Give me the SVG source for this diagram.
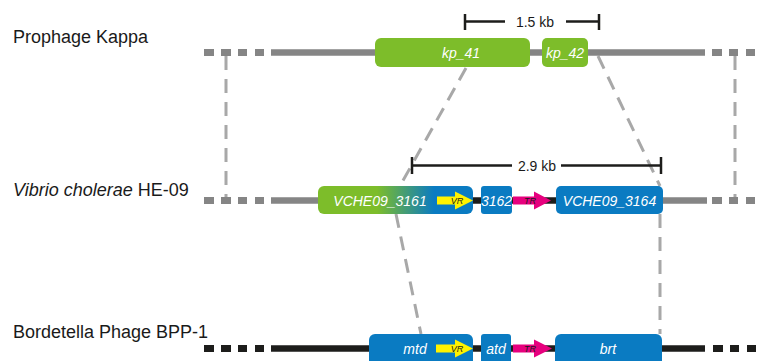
<svg xmlns="http://www.w3.org/2000/svg" width="761" height="361" viewBox="0 0 761 361">
<defs>
<style>
.lbl{font-family:"Liberation Sans",Arial,sans-serif;font-size:18px;fill:#1a1a1a}
.gene{font-family:"Liberation Sans",Arial,sans-serif;font-size:14px;font-style:italic;fill:#ffffff;text-anchor:middle}
.small{font-family:"Liberation Sans",Arial,sans-serif;font-size:9px;font-style:italic;fill:#1a1a1a;text-anchor:middle}
.scale{font-family:"Liberation Sans",Arial,sans-serif;font-size:14px;fill:#1a1a1a;text-anchor:middle}
.bar{stroke:#1d1d1b;stroke-width:2.5;fill:none}
.conn{stroke:#a8a8a8;stroke-width:3;stroke-dasharray:14 9;fill:none}
.gline{stroke:#858585;stroke-width:6.5}
.bline{stroke:#1d1d1b;stroke-width:6.5}
.green{fill:#7dbd2a}
.blue{fill:#0a7bc2}
.vr{fill:#fff200}
.tr{fill:#e6007e}
</style>
<linearGradient id="gb" x1="318" y1="0" x2="473" y2="0" gradientUnits="userSpaceOnUse">
<stop offset="0" stop-color="#7dbd2a"/>
<stop offset="0.38" stop-color="#7dbd2a"/>
<stop offset="0.75" stop-color="#0a7bc2"/>
<stop offset="1" stop-color="#0a7bc2"/>
</linearGradient>
</defs>
<rect width="761" height="361" fill="#ffffff"/>

<g id="connectors">
<line class="conn" x1="226" y1="56" x2="226" y2="197"/>
<line class="conn" x1="735" y1="56" x2="735" y2="197"/>
<line class="conn" x1="466" y1="68" x2="400" y2="186"/>
<line class="conn" x1="598" y1="56" x2="660" y2="186"/>
<line class="conn" x1="396" y1="214" x2="421" y2="334"/>
<line class="conn" x1="660" y1="214" x2="660" y2="334"/>
</g>

<g id="labels">
<text class="lbl" x="13" y="43">Prophage Kappa</text>
<text class="lbl" x="13" y="196"><tspan font-style="italic">Vibrio cholerae</tspan> HE-09</text>
<text class="lbl" x="13" y="338">Bordetella Phage BPP-1</text>
</g>

<g id="track-kappa">
<g fill="#858585">
<rect x="204" y="49" width="10" height="7"/>
<rect x="221" y="49" width="10" height="7"/>
<rect x="238" y="49" width="9" height="7"/>
<rect x="255" y="49" width="9" height="7"/>
<rect x="712" y="49" width="10" height="7"/>
<rect x="729" y="49" width="9" height="7"/>
<rect x="746" y="49" width="9" height="7"/>
</g>
<line class="gline" x1="271" y1="52.5" x2="705" y2="52.5"/>
</g>

<g id="scale-1_5kb">
<line class="bar" x1="465" y1="21.5" x2="505" y2="21.5"/>
<line class="bar" x1="566" y1="21.5" x2="599" y2="21.5"/>
<line class="bar" x1="465" y1="14" x2="465" y2="30"/>
<line class="bar" x1="599" y1="14" x2="599" y2="30"/>
<text class="scale" x="535" y="26.5">1.5 kb</text>
</g>

<g id="kp_41">
<rect class="green" x="375" y="38" width="155" height="29" rx="6"/>
<text class="gene" x="461" y="57.5">kp_41</text>
</g>
<g id="kp_42">
<rect class="green" x="542" y="38" width="46" height="29" rx="5"/>
<text class="gene" x="565" y="57.5">kp_42</text>
</g>

<g id="track-vibrio">
<g fill="#858585">
<rect x="204" y="197" width="10" height="7"/>
<rect x="221" y="197" width="10" height="7"/>
<rect x="238" y="197" width="9" height="7"/>
<rect x="255" y="197" width="9" height="7"/>
<rect x="712" y="197" width="10" height="7"/>
<rect x="729" y="197" width="9" height="7"/>
<rect x="746" y="197" width="9" height="7"/>
</g>
<line class="gline" x1="271" y1="200.5" x2="320" y2="200.5"/>
<line class="gline" x1="660" y1="200.5" x2="707" y2="200.5"/>
<line class="bline" x1="470" y1="200.5" x2="560" y2="200.5"/>
</g>

<g id="scale-2_9kb">
<line class="bar" x1="412" y1="165.5" x2="512" y2="165.5"/>
<line class="bar" x1="561" y1="165.5" x2="661" y2="165.5"/>
<line class="bar" x1="412" y1="157" x2="412" y2="174"/>
<line class="bar" x1="661" y1="157" x2="661" y2="174"/>
<text class="scale" x="537" y="170.5">2.9 kb</text>
</g>

<g id="VCHE09_3161">
<rect x="318" y="186" width="155" height="28" rx="6" fill="url(#gb)"/>
<text class="gene" x="380" y="205.5">VCHE09_3161</text>
</g>
<g id="VR-vibrio">
<polygon class="vr" points="437,196.5 455,196.5 455,191.5 473,200.5 455,209.5 455,204.5 437,204.5"/>
<text class="small" x="457" y="203.8">VR</text>
</g>
<g id="gene-3162">
<rect class="blue" x="481" y="186" width="31" height="28" rx="3"/>
<text class="gene" x="496.5" y="205.5">3162</text>
</g>
<g id="TR-vibrio">
<polygon class="tr" points="513,196.5 534,196.5 534,191.5 551,200.5 534,209.5 534,204.5 513,204.5"/>
<text class="small" x="530" y="203.8">TR</text>
</g>
<g id="VCHE09_3164">
<rect class="blue" x="556" y="186" width="107" height="28" rx="5"/>
<text class="gene" x="609.5" y="205.5">VCHE09_3164</text>
</g>

<g id="track-bpp1">
<g fill="#1d1d1b">
<rect x="204" y="345" width="10" height="7"/>
<rect x="221" y="345" width="10" height="7"/>
<rect x="238" y="345" width="9" height="7"/>
<rect x="255" y="345" width="9" height="7"/>
<rect x="713" y="345" width="10" height="7"/>
<rect x="730" y="345" width="9" height="7"/>
<rect x="747" y="345" width="9" height="7"/>
</g>
<line class="bline" x1="271" y1="348.5" x2="705" y2="348.5"/>
</g>

<g id="mtd">
<rect class="blue" x="369" y="334" width="104" height="34" rx="6"/>
<text class="gene" x="415" y="353.5">mtd</text>
</g>
<g id="VR-bpp1">
<polygon class="vr" points="436,344.5 455,344.5 455,339.5 473,348.5 455,357.5 455,352.5 436,352.5"/>
<text class="small" x="457" y="351.8">VR</text>
</g>
<g id="atd">
<rect class="blue" x="481" y="334" width="30" height="34" rx="3"/>
<text class="gene" x="496" y="353.5">atd</text>
</g>
<g id="TR-bpp1">
<polygon class="tr" points="513,344.5 534,344.5 534,339.5 552,348.5 534,357.5 534,352.5 513,352.5"/>
<text class="small" x="530" y="351.8">TR</text>
</g>
<g id="brt">
<rect class="blue" x="555" y="334" width="107" height="34" rx="6"/>
<text class="gene" x="608" y="353.5">brt</text>
</g>
</svg>
